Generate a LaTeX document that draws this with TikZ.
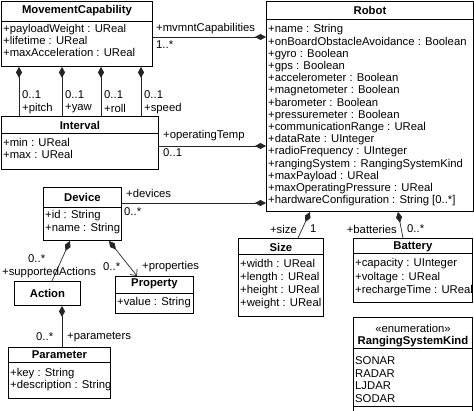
\documentclass[tikz,border=0pt]{standalone}
\usepackage{fontspec}
\setmainfont{Liberation Sans}
\usetikzlibrary{positioning,calc}
\usetikzlibrary{arrows.meta}
\tikzset{
  cls/.style={draw=black,line width=0.9pt,rectangle,inner sep=0pt,anchor=north west},
  ttl/.style={font=\fontsize{11.3}{13}\selectfont\bfseries,inner sep=0pt},
  attr/.style={font=\fontsize{11.3}{13}\selectfont,align=left,inner sep=0pt,anchor=north west},
  lbl/.style={font=\fontsize{11.3}{13}\selectfont,inner sep=0pt,anchor=west},
  sepline/.style={draw=black,line width=0.7pt},
}
\tikzset{comp/.style={draw=black!85,line width=0.7pt,{Diamond[length=11pt,width=6pt]}-},
  nav/.style={draw=black!85,line width=0.7pt,{Diamond[length=11pt,width=6pt]}-{Straight Barb[length=5pt,width=9pt]}}}

\begin{document}
\begin{tikzpicture}[x=1pt,y=-1pt]
\useasboundingbox (0,0) rectangle (474,410);
% class boxes
\node[cls,minimum width=151pt,minimum height=65pt] (mc) at (1,1) {};
\node[cls,minimum width=207pt,minimum height=210pt] (robot) at (266,1) {};
\node[cls,minimum width=157pt,minimum height=53pt] (interval) at (1,116) {};
\node[cls,minimum width=78pt,minimum height=53pt] (device) at (43,187) {};
\node[cls,minimum width=66pt,minimum height=24pt] (action) at (14,281) {};
\node[cls,minimum width=78pt,minimum height=37pt] (property) at (115,276) {};
\node[cls,minimum width=102pt,minimum height=51pt] (param) at (8,347) {};
\node[cls,minimum width=85pt,minimum height=78pt] (size) at (238,238) {};
\node[cls,minimum width=119pt,minimum height=64pt] (battery) at (353,238) {};
\node[cls,minimum width=119pt,minimum height=100pt] (rsk) at (353,317) {};
% titles
\node[ttl] at ($(mc.north)+(0,10)$) {MovementCapability};
\node[ttl] at ($(robot.north)+(0,9)$) {Robot};
\node[ttl] at ($(interval.north)+(0,9.5)$) {Interval};
\node[ttl] at ($(device.north)+(0,10)$) {Device};
\node[ttl] at (action.center) {Action};
\node[ttl] at ($(property.north)+(0,8)$) {Property};
\node[ttl] at ($(param.north)+(0,8)$) {Parameter};
\node[ttl] at ($(size.north)+(0,9)$) {Size};
\node[ttl] at ($(battery.north)+(0,9)$) {Battery};
\node[font=\fontsize{11.3}{13}\selectfont,inner sep=0pt] at ($(rsk.north)+(0,11)$) {«enumeration»};
\node[ttl] at ($(rsk.north)+(0,25)$) {RangingSystemKind};
% compartments
\draw[sepline] ($(mc.north west)+(0,20)$) -- ($(mc.north east)+(0,20)$);
\draw[sepline] ($(robot.north west)+(0,18)$) -- ($(robot.north east)+(0,18)$);
\draw[sepline] ($(interval.north west)+(0,17)$) -- ($(interval.north east)+(0,17)$);
\draw[sepline] ($(device.north west)+(0,20)$) -- ($(device.north east)+(0,20)$);
\draw[sepline] ($(property.north west)+(0,17)$) -- ($(property.north east)+(0,17)$);
\draw[sepline] ($(param.north west)+(0,15)$) -- ($(param.north east)+(0,15)$);
\draw[sepline] ($(size.north west)+(0,16)$) -- ($(size.north east)+(0,16)$);
\draw[sepline] ($(battery.north west)+(0,15)$) -- ($(battery.north east)+(0,15)$);
\draw[sepline] ($(rsk.north west)+(0,31)$) -- ($(rsk.north east)+(0,31)$);
\draw[sepline] ($(rsk.north west)+(0,89)$) -- ($(rsk.north east)+(0,89)$);
% attributes
\node[attr,font=\fontsize{11.3}{12}\selectfont] at ($(mc.north west)+(2,23.5)$) {+payloadWeight : UReal\\+lifetime : UReal\\+maxAcceleration : UReal};
\node[attr,font=\fontsize{11.3}{12.2}\selectfont] at ($(robot.north west)+(2,23.5)$) {+name : String\\+onBoardObstacleAvoidance : Boolean\\+gyro : Boolean\\+gps : Boolean\\+accelerometer : Boolean\\+magnetometer : Boolean\\+barometer : Boolean\\+pressuremeter : Boolean\\+communicationRange : UReal\\+dataRate : UInteger\\+radioFrequency : UInteger\\+rangingSystem : RangingSystemKind\\+maxPayload : UReal\\+maxOperatingPressure : UReal\\+hardwareConfiguration : String [0..*]};
\node[attr,font=\fontsize{11.3}{12}\selectfont] at ($(interval.north west)+(2,22.5)$) {+min : UReal\\+max : UReal};
\node[attr] at ($(device.north west)+(2,23.5)$) {+id : String\\+name : String};
\node[attr] at ($(property.north west)+(2,21.5)$) {+value : String};
\node[attr,font=\fontsize{11.3}{12}\selectfont] at ($(param.north west)+(2,21.5)$) {+key : String\\+description : String};
\node[attr] at ($(size.north west)+(2,21.5)$) {+width : UReal\\+length : UReal\\+height : UReal\\+weight : UReal};
\node[attr,font=\fontsize{11.3}{13.5}\selectfont] at ($(battery.north west)+(2,20.5)$) {+capacity : UInteger\\+voltage : UReal\\+rechargeTime : UReal};
\node[attr,font=\fontsize{11.3}{12.7}\selectfont] at ($(rsk.north west)+(2,39.5)$) {SONAR\\RADAR\\LJDAR\\SODAR};
% associations to Robot
\draw[comp] ($(robot.north west)+(0,36)$) -- ($(mc.north east)+(0,36)$);
\node[lbl] at (156,29) {+mvmntCapabilities};
\node[lbl] at (156,45) {1..*};
\draw[comp] ($(robot.north west)+(0,145)$) -- ($(interval.north east)+(0,30)$);
\node[lbl] at (163,136) {+operatingTemp};
\node[lbl] at (163,153) {0..1};
\draw[comp] ($(robot.north west)+(0,202)$) -- ($(device.north east)+(0,16)$);
\node[lbl] at (126,193) {+devices};
\node[lbl] at (124,212) {0..*};
\draw[comp] ($(robot.south west)+(44,0)$) -- ($(size.north west)+(60,0)$);
\node[lbl,anchor=east] at (297,229) {+size};
\node[lbl] at (310,229) {1};
\draw[comp] ($(robot.south west)+(132,0)$) -- ($(battery.north west)+(50,0)$);
\node[lbl,anchor=east] at (397,229) {+batteries};
\node[lbl] at (407,229) {0..*};
% movement capability roles
\foreach \dx/\role in {18/pitch,61/yaw,100/roll,140/speed}{
  \draw[comp] ($(mc.south west)+(\dx,0)$) -- ($(interval.north west)+(\dx,0)$);
  \node[lbl] at ($(mc.south west)+(\dx+3,28)$) {0..1};
  \node[lbl] at ($(mc.south west)+(\dx+3,42)$) {+\role};
}
% device side
\draw[comp] ($(device.south west)+(27,0)$) -- ($(action.north west)+(38,0)$);
\node[lbl] at (28,259) {0..*};
\node[lbl] at (2,273) {+supportedActions};
\draw[nav] ($(device.south west)+(66,0)$) -- ($(property.north west)+(22,0)$);
\node[lbl] at (103,267) {0..*};
\node[lbl] at (142,267) {+properties};
\draw[comp] ($(action.south west)+(48,0)$) -- ($(param.north west)+(54,0)$);
\node[lbl] at (36,337) {0..*};
\node[lbl] at (67,337) {+parameters};
\end{tikzpicture}
\end{document}
